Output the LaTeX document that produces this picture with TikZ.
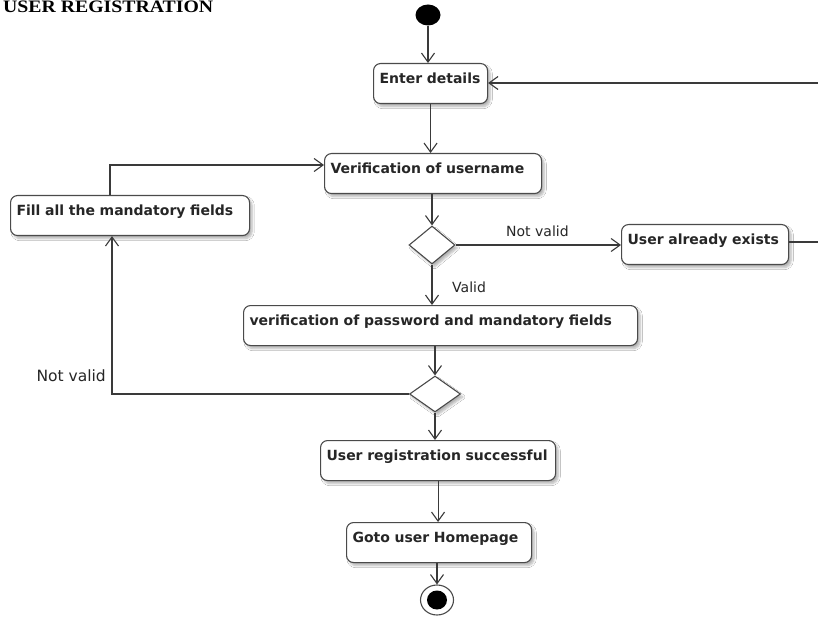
\documentclass[tikz,border=0pt]{standalone}
\usepackage{fontspec}
\setmainfont{DejaVu Sans}
\newfontfamily\titlefont{Liberation Serif}
\usetikzlibrary{arrows.meta,shapes.geometric,shadows.blur}

\definecolor{linegray}{HTML}{3A3A3A}
\definecolor{boxgray}{HTML}{4A4A4A}
\definecolor{txt}{HTML}{262626}

\begin{document}
\begin{tikzpicture}[x=1pt,y=-1pt,
  flow/.style={draw=linegray, line width=1.1pt, -{Straight Barb[length=9pt,width=13pt]}},
  act/.style={draw=boxgray, line width=1.1pt, rounded corners=7pt, fill=white,
    anchor=north west, inner xsep=6pt, inner ysep=0pt,
    text height=20pt, text depth=20pt, align=left, text=txt,
    font=\fontsize{14}{16}\selectfont\bfseries,
    blur shadow={shadow xshift=2.5pt, shadow yshift=-3pt, shadow blur steps=6, shadow opacity=30}},
  decision/.style={diamond, draw=boxgray, line width=1.1pt, fill=white, inner sep=0pt,
    blur shadow={shadow xshift=2.5pt, shadow yshift=-3pt, shadow blur steps=6, shadow opacity=30}},
  guard/.style={text=txt, inner sep=0pt}
]
\useasboundingbox (0,0) rectangle (818,617);
\clip (0,0) rectangle (818,617);
\fill[white] (0,0) rectangle (818,617);

% heading
\node[anchor=base west, inner sep=0pt, text=black, font=\titlefont\fontsize{17.5}{20}\selectfont\bfseries] (title) at (3,12.5) {\scalebox{1.13}[1]{USER REGISTRATION}};

% initial and final nodes
\node[ellipse, fill=black, minimum width=25pt, minimum height=21pt, inner sep=0pt] (start) at (428,15) {};
\node[ellipse, draw=boxgray, line width=1.1pt, fill=white, minimum width=33pt, minimum height=30pt, inner sep=0pt] (endo) at (437,600) {};
\node[ellipse, fill=black, minimum width=20pt, minimum height=19pt, inner sep=0pt] (endi) at (endo) {};

% actions
\node[act, text width=102pt] (ed) at (373,63) {Enter details};
\node[act, text width=205pt] (vu) at (324,153) {Verification of username};
\node[act, text width=227pt] (fill) at (10,195) {Fill all the mandatory fields};
\node[act, text width=155pt] (uae) at (621,224) {User already exists};
\node[act, text width=382pt] (pw) at (243,305) {verification of password and mandatory fields};
\node[act, text width=223pt] (urs) at (320,440) {User registration successful};
\node[act, text width=173pt] (goto) at (346,522) {Goto user Homepage};

% decisions
\node[decision, minimum width=46pt, minimum height=38pt] (d1) at (432,245) {};
\node[decision, minimum width=51pt, minimum height=36pt] (d2) at (435,394) {};

% bend points of the loops
\coordinate (loopT) at (110,165);
\coordinate (loopL) at (112,394);
\coordinate (rtop) at (832,83);

% main flow
\draw[flow] (start) -- (start |- ed.north);
\draw[flow] (ed.south) -- (ed.south |- vu.north);
\draw[flow] (d1 |- vu.south) -- (d1.north);
\draw[flow] (d1.east) -- (d1.east -| uae.west);
\draw[flow] (d1.south) -- (d1 |- pw.north);
\draw[flow] (d2 |- pw.south) -- (d2.north);
\draw[flow] (d2.south) -- (d2 |- urs.north);
\draw[flow] (urs.south) -- (urs.south |- goto.north);
\draw[flow] (endo |- goto.south) -- (endo.north);

% loops back to earlier steps
\draw[flow] (d2.west) -- (loopL) -- (loopL |- fill.south);
\draw[flow] (loopT |- fill.north) -- (loopT) -- (loopT -| vu.west);
\draw[flow] (uae.east |- 0,242) -- (rtop |- 0,242) -- (rtop) -- (rtop -| ed.east);

% guards
\node[guard, anchor=base west, font=\fontsize{14}{16}\selectfont] (nv1) at (506,237) {Not valid};
\node[guard, anchor=base west, font=\fontsize{14}{16}\selectfont] (val) at (452,292) {Valid};
\node[guard, anchor=base east, font=\fontsize{15.5}{18}\selectfont] (nv2) at (106,381) {Not valid};
\end{tikzpicture}
\end{document}
